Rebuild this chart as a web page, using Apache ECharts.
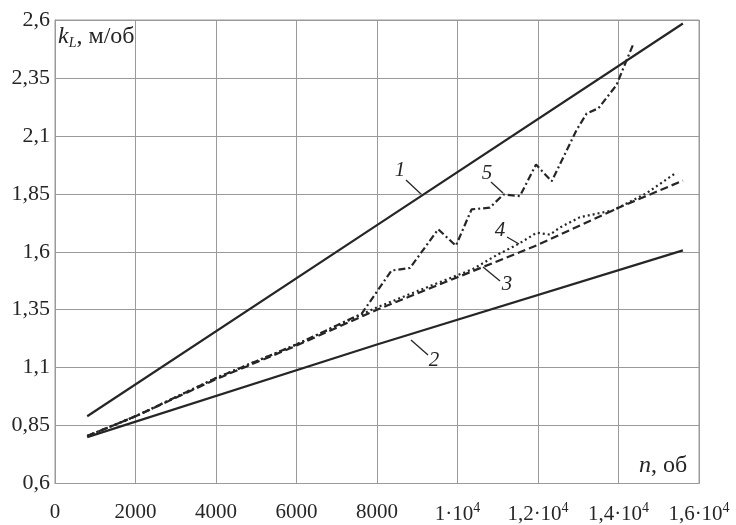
<!DOCTYPE html>
<html>
<head>
<meta charset="utf-8">
<script src="https://cdn.jsdelivr.net/npm/echarts@6/dist/echarts.min.js"></script>
<style>
  html, body { margin: 0; padding: 0; background: #fff; }
  #main { width: 736px; height: 525px; }
</style>
</head>
<body>
<div id="main"></div>
<script>
// кривые k_L(n): пары [n, k_L]
var curve1 = [[800, 0.89], [8000, 1.715], [15600, 2.585]];
var curve2 = [[800, 0.80], [8000, 1.20], [15600, 1.606]];
var curve3 = [[800, 0.805], [2000, 0.89], [4000, 1.05], [6000, 1.195], [8000, 1.35],
              [10000, 1.49], [12000, 1.63], [14000, 1.79], [15600, 1.907]];
var curve4 = [[800, 0.805], [2000, 0.89], [4000, 1.055], [6000, 1.2], [8000, 1.36],
              [9000, 1.43], [10380, 1.525], [10970, 1.585], [11550, 1.637], [11965, 1.682],
              [12300, 1.674], [12540, 1.704], [13040, 1.749], [13870, 1.779], [14700, 1.853],
              [15440, 1.942]];
var curve5 = [[800, 0.805], [2000, 0.89], [4000, 1.055], [6000, 1.2], [7620, 1.333],
              [8360, 1.519], [8820, 1.53], [9520, 1.697], [9960, 1.626], [10350, 1.783],
              [10800, 1.79], [11140, 1.847], [11550, 1.84], [11950, 1.976], [12340, 1.904],
              [12960, 2.126], [13210, 2.197], [13500, 2.219], [13950, 2.319], [14200, 2.426],
              [14370, 2.497]];

// подписи осей
var xTicks = [0, 2000, 4000, 6000, 8000, 10000, 12000, 14000, 16000];
var xTickLabels = ['0', '2000', '4000', '6000', '8000', '1·10{s|4}', '1,2·10{s|4}', '1,4·10{s|4}', '1,6·10{s|4}'];
var yTicks = [0.6, 0.85, 1.1, 1.35, 1.6, 1.85, 2.1, 2.35, 2.6];
var yTickLabels = ['0,6', '0,85', '1,1', '1,35', '1,6', '1,85', '2,1', '2,35', '2,6'];

var serif = '"Liberation Serif", "DejaVu Serif", serif';
var ink = '#262626';
var gridColor = '#9a9a9a';

var myChart = echarts.init(document.getElementById('main'));

function lineSeries(name, data, type) {
    return {
        name: name,
        type: 'line',
        data: data,
        symbol: 'none',
        smooth: false,
        lineStyle: { color: ink, width: 2.2, type: type },
        z: 3
    };
}

function curveLabel(text, x, y) {
    return { type: 'text', x: x, y: y, style: { text: text, font: 'italic 21px ' + serif, fill: ink, align: 'center', verticalAlign: 'middle' } };
}

function leader(x1, y1, x2, y2) {
    return { type: 'line', shape: { x1: x1, y1: y1, x2: x2, y2: y2 }, style: { stroke: ink, lineWidth: 1.3 } };
}

var option = {
    animation: false,
    backgroundColor: '#fff',
    grid: { left: 55, right: 37, top: 20, bottom: 38, show: true, borderColor: gridColor, borderWidth: 1 },
    xAxis: {
        type: 'value',
        min: 0,
        max: 16000,
        interval: 2000,
        axisLine: { show: true, lineStyle: { color: gridColor, width: 1 } },
        axisTick: { show: false },
        splitLine: { show: true, lineStyle: { color: gridColor, width: 1 } },
        axisLabel: {
            margin: 18,
            fontFamily: serif,
            fontSize: 21,
            color: ink,
            formatter: function (v) {
                var i = xTicks.indexOf(v);
                return i >= 0 ? xTickLabels[i] : '';
            },
            rich: {
                s: { fontFamily: serif, fontSize: 14, color: ink, verticalAlign: 'top', padding: [0, 0, 12, 0] }
            }
        }
    },
    yAxis: {
        type: 'value',
        min: 0.6,
        max: 2.6,
        axisLine: { show: true, lineStyle: { color: gridColor, width: 1 } },
        axisTick: { show: false, customValues: yTicks },
        splitLine: { show: true, lineStyle: { color: gridColor, width: 1 } },
        axisLabel: {
            customValues: yTicks,
            margin: 5,
            fontFamily: serif,
            fontSize: 22,
            color: ink,
            formatter: function (v) {
                for (var i = 0; i < yTicks.length; i++) {
                    if (Math.abs(yTicks[i] - v) < 1e-6) return yTickLabels[i];
                }
                return '';
            }
        }
    },
    series: [
        lineSeries('1', curve1, 'solid'),
        lineSeries('2', curve2, 'solid'),
        lineSeries('3', curve3, [8, 4]),
        lineSeries('4', curve4, [2, 3]),
        lineSeries('5', curve5, [7, 3, 2, 3])
    ],
    graphic: [
        {
            type: 'text', left: 58, top: 25,
            style: {
                text: '{k|k}{l|L}{t|, м/об}',
                rich: {
                    k: { fontFamily: serif, fontStyle: 'italic', fontSize: 24, fill: ink },
                    l: { fontFamily: serif, fontStyle: 'italic', fontSize: 14, fill: ink, padding: [12, 0, 0, 0] },
                    t: { fontFamily: serif, fontSize: 24, fill: ink }
                }
            }
        },
        {
            type: 'text', left: 639, top: 454,
            style: {
                text: '{n|n}{t|, об}',
                rich: {
                    n: { fontFamily: serif, fontStyle: 'italic', fontSize: 24, fill: ink },
                    t: { fontFamily: serif, fontSize: 24, fill: ink }
                }
            }
        },
        // номера кривых с выносками
        curveLabel('1', 400, 170), leader(406, 180, 422, 195),
        curveLabel('5', 487, 173), leader(491, 182, 503, 193),
        curveLabel('4', 500, 230), leader(507, 237, 519, 244),
        curveLabel('3', 507, 284), leader(483, 267, 500, 281),
        curveLabel('2', 434, 360), leader(411, 340, 428, 355)
    ]
};

myChart.setOption(option);
window.addEventListener('resize', function () {
    myChart.resize();
});
</script>
</body>
</html>
